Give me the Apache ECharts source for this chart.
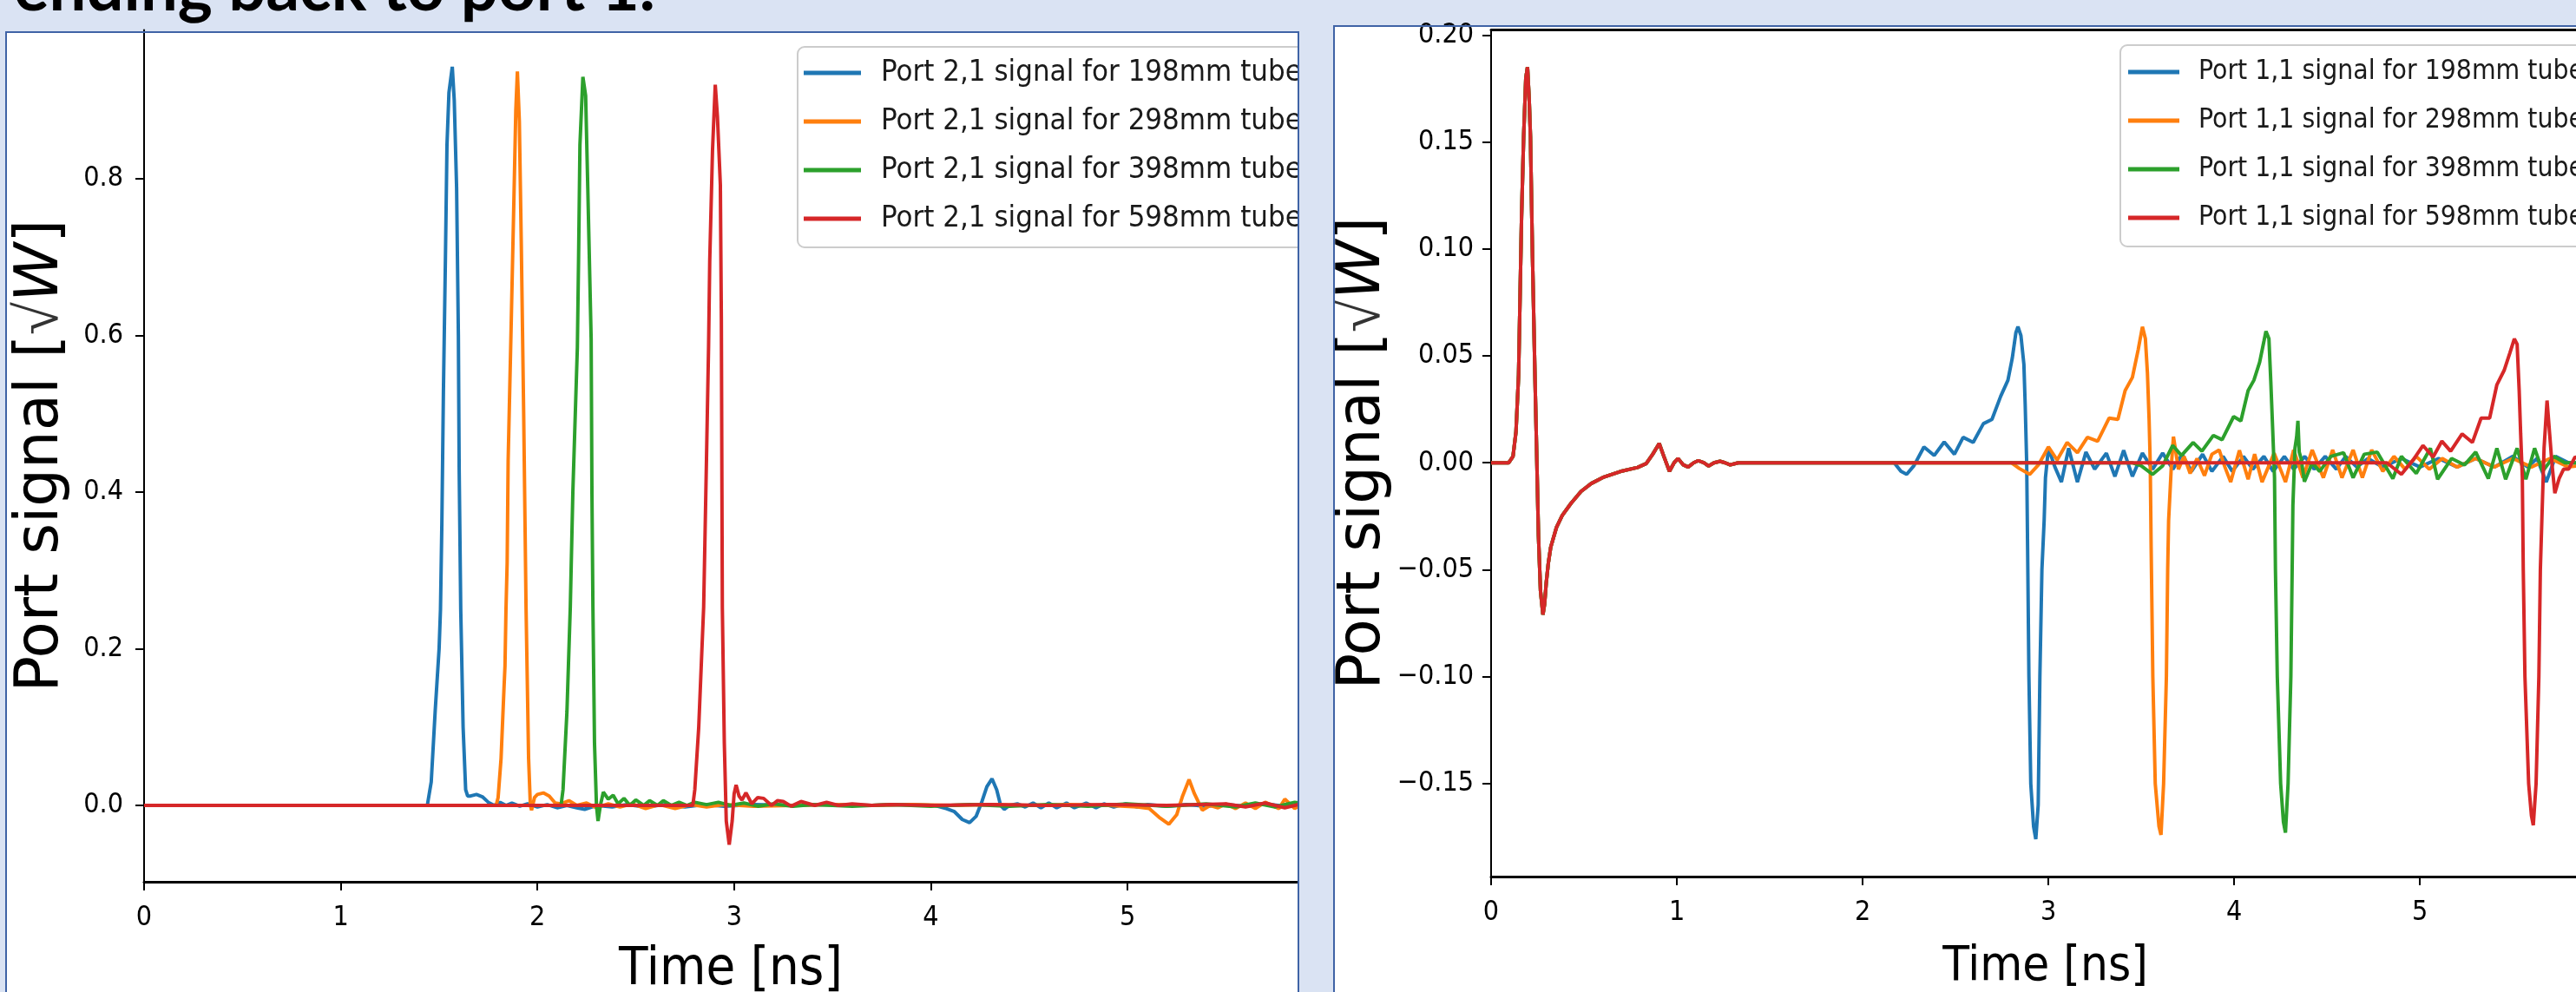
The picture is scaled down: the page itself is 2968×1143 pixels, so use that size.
<!DOCTYPE html>
<html>
<head>
<meta charset="utf-8">
<title>Port signals vs time</title>
<script src="https://cdn.jsdelivr.net/npm/echarts@6/dist/echarts.min.js"></script>
<style>
  html, body { margin: 0; padding: 0; background: #dae3f3; }
  #main { width: 2968px; height: 1143px; }
</style>
</head>
<body>
<div id="main"></div>
<script>
// values: time [ns], signal [sqrt(W)]
const tubes = ['198mm', '298mm', '398mm', '598mm'];
const colors = ['#1f77b4', '#ff7f0e', '#2ca02c', '#d62728'];
const timeTicks = [0, 1, 2, 3, 4, 5];
const s21Ticks = [0, 0.2, 0.4, 0.6, 0.8];
const s11Ticks = [-0.15, -0.10, -0.05, 0, 0.05, 0.10, 0.15, 0.20];

// Port 2,1 (left plot)
const s21_198 = [[0,0],[1.44,0],[1.46,0.03],[1.48,0.12],[1.50,0.2],[1.507,0.25],[1.514,0.36],[1.522,0.53],[1.532,0.696],[1.54,0.843],[1.55,0.91],[1.567,0.943],[1.577,0.9],[1.589,0.788],[1.598,0.6],[1.602,0.43],[1.61,0.25],[1.622,0.1],[1.635,0.02],[1.645,0.012],[1.66,0.012],[1.69,0.014],[1.72,0.011],[1.75,0.004],[1.78,0.0],[1.81,0.004],[1.84,0.0],[1.87,0.003],[1.91,-0.001],[1.95,0.002],[2.0,-0.002],[2.05,0.001],[2.1,-0.003],[2.15,0.0],[2.2,-0.003],[2.24,-0.005],[2.3,0.0],[2.38,-0.002],[2.45,0.001],[2.55,-0.002],[2.65,0.001],[2.75,-0.002],[2.85,0.001],[2.95,-0.001],[3.1,0.001],[3.3,0.0],[3.5,0.001],[3.7,0.0],[3.9,0.001],[4.02,0.0],[4.078,-0.004],[4.12,-0.008],[4.16,-0.018],[4.197,-0.022],[4.23,-0.014],[4.26,0.005],[4.285,0.024],[4.311,0.034],[4.335,0.02],[4.355,0.0],[4.373,-0.005],[4.40,0.0],[4.44,0.002],[4.48,-0.002],[4.52,0.003],[4.56,-0.003],[4.6,0.003],[4.64,-0.003],[4.69,0.003],[4.73,-0.003],[4.79,0.003],[4.84,-0.003],[4.88,0.002],[4.93,-0.002],[4.99,0.002],[5.05,-0.002],[5.1,0.001],[5.2,-0.001],[5.3,0.001],[5.4,-0.001],[5.5,0.001],[5.6,-0.001],[5.7,0.002],[5.8,-0.001],[5.97,0]];
const s21_298 = [[0,0],[1.79,0],[1.80,0.01],[1.815,0.06],[1.83,0.15],[1.835,0.178],[1.84,0.25],[1.846,0.31],[1.851,0.44],[1.867,0.62],[1.88,0.77],[1.89,0.888],[1.898,0.937],[1.908,0.873],[1.918,0.714],[1.93,0.5],[1.942,0.253],[1.955,0.06],[1.964,0.0],[1.97,-0.006],[1.985,0.01],[2.0,0.014],[2.03,0.016],[2.06,0.012],[2.09,0.003],[2.12,0.002],[2.16,0.006],[2.2,0.0],[2.25,0.003],[2.3,-0.003],[2.36,0.002],[2.42,-0.002],[2.48,0.002],[2.55,-0.004],[2.62,0.001],[2.7,-0.004],[2.78,0.001],[2.86,-0.002],[2.95,0.001],[3.1,-0.001],[3.3,0.0],[3.5,0.001],[3.7,0.0],[3.9,0.001],[4.1,0.0],[4.3,0.001],[4.5,0.0],[4.7,0.001],[4.9,0.0],[5.05,-0.002],[5.11,-0.004],[5.16,-0.015],[5.21,-0.024],[5.25,-0.012],[5.28,0.012],[5.313,0.033],[5.34,0.015],[5.38,-0.006],[5.42,0.0],[5.46,-0.003],[5.5,0.002],[5.55,-0.004],[5.6,0.003],[5.65,-0.004],[5.7,0.004],[5.77,-0.004],[5.8,0.008],[5.85,-0.004],[5.9,0.004],[5.97,0]];
const s21_398 = [[0,0],[2.12,0],[2.13,0.02],[2.15,0.12],[2.167,0.253],[2.18,0.4],[2.203,0.585],[2.209,0.696],[2.216,0.843],[2.231,0.93],[2.245,0.906],[2.256,0.788],[2.273,0.596],[2.277,0.4],[2.282,0.253],[2.29,0.08],[2.3,0.0],[2.308,-0.02],[2.32,0.0],[2.335,0.017],[2.36,0.008],[2.385,0.013],[2.41,0.002],[2.44,0.009],[2.47,0.0],[2.5,0.007],[2.54,0.0],[2.57,0.006],[2.61,0.0],[2.64,0.006],[2.68,0.0],[2.72,0.004],[2.76,0.0],[2.8,0.004],[2.86,0.001],[2.92,0.004],[2.98,0.0],[3.05,0.003],[3.12,-0.001],[3.2,0.002],[3.3,-0.001],[3.4,0.001],[3.6,-0.001],[3.8,0.001],[4.0,-0.001],[4.2,0.001],[4.4,-0.001],[4.6,0.001],[4.8,-0.001],[5.0,0.002],[5.2,-0.001],[5.4,0.002],[5.55,-0.002],[5.65,0.003],[5.75,-0.002],[5.85,0.004],[5.97,0]];
const s21_598 = [[0,0],[2.79,0],[2.80,0.02],[2.82,0.1],[2.845,0.253],[2.86,0.45],[2.87,0.585],[2.876,0.696],[2.89,0.836],[2.904,0.92],[2.915,0.88],[2.93,0.792],[2.935,0.622],[2.938,0.4],[2.94,0.253],[2.95,0.08],[2.96,-0.02],[2.975,-0.05],[2.99,-0.02],[3.0,0.015],[3.01,0.026],[3.025,0.012],[3.04,0.007],[3.06,0.016],[3.09,0.002],[3.12,0.01],[3.15,0.009],[3.19,0.0],[3.22,0.006],[3.25,0.005],[3.29,-0.001],[3.34,0.005],[3.41,0.0],[3.47,0.004],[3.53,0.0],[3.6,0.002],[3.7,0.0],[3.8,0.001],[4.0,0.0],[4.3,0.001],[4.6,0.0],[4.9,0.001],[5.2,0.0],[5.5,0.002],[5.6,-0.002],[5.7,0.003],[5.8,-0.003],[5.9,0.003],[5.97,0]];

// Port 1,1 (right plot): first reflection is common to every tube
const s11Common = [[0,0],[0.095,0],[0.118,0.003],[0.134,0.0145],[0.148,0.041],[0.156,0.078],[0.164,0.115],[0.175,0.152],[0.187,0.18],[0.196,0.185],[0.205,0.17],[0.212,0.152],[0.223,0.096],[0.236,0.041],[0.246,0.002],[0.255,-0.034],[0.266,-0.06],[0.279,-0.071],[0.288,-0.066],[0.297,-0.056],[0.308,-0.047],[0.321,-0.0395],[0.352,-0.0302],[0.383,-0.0246],[0.43,-0.019],[0.484,-0.0134],[0.539,-0.0097],[0.601,-0.0069],[0.695,-0.0041],[0.788,-0.0022],[0.835,-0.0004],[0.87,0.004],[0.905,0.009],[0.93,0.003],[0.96,-0.004],[0.985,0.0],[1.006,0.002],[1.035,-0.001],[1.061,-0.002],[1.09,0.0],[1.115,0.001],[1.145,0.0],[1.17,-0.0015],[1.2,0.0],[1.232,0.0007],[1.26,0.0],[1.287,-0.001],[1.33,0]];
const s11_198 = [[2.17,0],[2.206,-0.004],[2.237,-0.0054],[2.276,-0.0014],[2.33,0.0074],[2.385,0.0034],[2.439,0.0097],[2.494,0.004],[2.541,0.0119],[2.595,0.0095],[2.65,0.0183],[2.696,0.0203],[2.743,0.0311],[2.782,0.0386],[2.805,0.0487],[2.825,0.0609],[2.836,0.0636],[2.852,0.0595],[2.868,0.046],[2.875,0.027],[2.883,0.0],[2.888,-0.04],[2.895,-0.1],[2.905,-0.15],[2.92,-0.17],[2.932,-0.176],[2.945,-0.16],[2.954,-0.1],[2.965,-0.05],[2.977,-0.027],[2.984,-0.007],[3.0,0.0068],[3.035,-0.002],[3.07,-0.009],[3.109,0.0068],[3.156,-0.009],[3.202,0.005],[3.249,-0.003],[3.312,0.0045],[3.358,-0.0064],[3.405,0.0058],[3.452,-0.0064],[3.506,0.0045],[3.561,-0.003],[3.615,0.0045],[3.67,-0.003],[3.72,0.004],[3.77,-0.004],[3.83,0.004],[3.88,-0.004],[3.94,0.003],[3.99,-0.004],[4.05,0.003],[4.1,-0.003],[4.16,0.003],[4.21,-0.004],[4.27,0.003],[4.32,-0.003],[4.38,0.003],[4.43,-0.003],[4.49,0.003],[4.55,-0.003],[4.6,0.003],[4.66,-0.002],[4.72,0.002],[4.8,-0.002],[4.9,0.002],[5.0,-0.002],[5.1,0.002],[5.2,-0.002],[5.3,0.002],[5.4,-0.002],[5.5,0.003],[5.58,-0.002],[5.63,0.002],[5.68,-0.009],[5.73,0.003],[5.8,0.0],[5.97,0]];
const s11_298 = [[2.8,0],[2.844,-0.0027],[2.899,-0.0054],[2.946,-0.001],[3.0,0.0074],[3.047,0.0013],[3.101,0.0095],[3.156,0.0047],[3.21,0.0119],[3.265,0.0101],[3.327,0.0209],[3.374,0.0203],[3.413,0.0338],[3.452,0.0399],[3.483,0.0528],[3.506,0.0636],[3.522,0.058],[3.533,0.0419],[3.542,0.02],[3.548,0.0],[3.553,-0.04],[3.562,-0.1],[3.575,-0.15],[3.595,-0.17],[3.606,-0.174],[3.62,-0.15],[3.635,-0.1],[3.642,-0.05],[3.647,-0.027],[3.662,-0.001],[3.673,0.0122],[3.70,-0.003],[3.73,0.003],[3.763,-0.005],[3.80,0.002],[3.84,-0.006],[3.88,0.004],[3.919,0.006],[3.95,-0.002],[3.981,-0.009],[4.028,0.0058],[4.075,-0.0077],[4.11,0.004],[4.15,-0.009],[4.215,0.0045],[4.276,-0.009],[4.32,0.006],[4.37,-0.007],[4.42,0.006],[4.48,-0.007],[4.53,0.006],[4.58,-0.007],[4.64,0.006],[4.69,-0.007],[4.74,0.006],[4.8,-0.004],[4.86,0.003],[4.92,-0.003],[4.98,0.003],[5.05,-0.003],[5.12,0.002],[5.2,-0.002],[5.3,0.002],[5.4,-0.002],[5.5,0.002],[5.6,-0.002],[5.7,0.002],[5.8,-0.002],[5.97,0]];
const s11_398 = [[3.45,0],[3.499,-0.0014],[3.561,-0.0054],[3.615,-0.0014],[3.669,0.0081],[3.716,0.0034],[3.779,0.0095],[3.826,0.0054],[3.888,0.0128],[3.935,0.0108],[3.997,0.0216],[4.036,0.0196],[4.075,0.0338],[4.106,0.0386],[4.137,0.047],[4.16,0.0568],[4.171,0.0615],[4.187,0.058],[4.197,0.038],[4.207,0.016],[4.217,-0.007],[4.222,-0.05],[4.232,-0.1],[4.25,-0.15],[4.265,-0.168],[4.276,-0.173],[4.29,-0.15],[4.305,-0.1],[4.312,-0.05],[4.316,-0.02],[4.327,0.0068],[4.336,0.012],[4.343,0.0196],[4.35,0.005],[4.36,0.002],[4.378,-0.0088],[4.42,0.0],[4.46,-0.004],[4.52,0.003],[4.589,0.0047],[4.64,-0.007],[4.7,0.004],[4.77,0.005],[4.854,-0.0074],[4.9,0.003],[4.98,-0.005],[5.056,0.0068],[5.095,-0.0077],[5.17,0.002],[5.24,-0.001],[5.3,0.005],[5.368,-0.0074],[5.414,0.0068],[5.461,-0.0077],[5.523,0.0068],[5.57,-0.0077],[5.617,0.0068],[5.66,-0.004],[5.72,0.003],[5.78,0.0],[5.97,0]];
const s11_598 = [[4.822,0],[4.9,-0.0054],[4.963,0.0013],[5.016,0.0081],[5.071,0.0027],[5.118,0.0101],[5.165,0.0054],[5.227,0.0135],[5.282,0.0095],[5.329,0.0209],[5.375,0.0209],[5.414,0.0365],[5.453,0.0432],[5.484,0.0514],[5.508,0.058],[5.523,0.0554],[5.534,0.0338],[5.542,0.0135],[5.551,-0.007],[5.556,-0.05],[5.565,-0.1],[5.585,-0.15],[5.6,-0.165],[5.61,-0.1695],[5.625,-0.15],[5.64,-0.1],[5.648,-0.05],[5.656,-0.027],[5.668,0.0068],[5.684,0.0291],[5.698,0.0135],[5.71,0.0],[5.726,-0.0142],[5.749,-0.0074],[5.773,-0.003],[5.8,-0.003],[5.835,0.0027],[5.9,0.0],[5.97,0]];

const s21Data = [s21_198, s21_298, s21_398, s21_598];
const s11Data = [s11_198, s11_298, s11_398, s11_598].map(tail => s11Common.concat(tail));

const bg = '#dae3f3';
const frame = '#3f63a6';
const tickFont = "'DejaVu Sans Condensed', 'DejaVu Sans'";
const mplFont = 'DejaVu Sans';

function timeAxis(grid, max, nameGap, nameSize) {
  return {
    type: 'value', gridIndex: grid, min: 0, max: max,
    name: 'Time [ns]', nameLocation: 'middle', nameGap: nameGap,
    nameTextStyle: { fontSize: nameSize, color: '#000', fontFamily: tickFont },
    axisLine: { show: true, onZero: false, lineStyle: { color: '#000', width: 3 } },
    axisTick: { show: true, customValues: timeTicks, length: 10, lineStyle: { color: '#000', width: 2 } },
    axisLabel: { customValues: timeTicks, margin: 26, fontSize: 32, color: '#000', fontFamily: tickFont },
    splitLine: { show: false }
  };
}

function signalAxis(grid, min, max, ticks, digits, nameGap, margin) {
  return {
    type: 'value', gridIndex: grid, min: min, max: max,
    name: 'Port signal [{s|√}{w|W}]', nameLocation: 'middle', nameRotate: 90, nameGap: nameGap,
    nameTextStyle: {
      fontSize: 69, color: '#000', fontFamily: mplFont,
      rich: {
        s: { fontSize: 69, fontFamily: mplFont, fontWeight: 'lighter', color: '#333' },
        w: { fontSize: 69, fontFamily: mplFont, fontStyle: 'italic', color: '#000' }
      }
    },
    axisLine: { show: true, onZero: false, lineStyle: { color: '#000', width: 2 } },
    axisTick: { show: true, customValues: ticks, length: 10, lineStyle: { color: '#000', width: 2 } },
    axisLabel: {
      customValues: ticks, margin: margin, fontSize: 32, color: '#000', fontFamily: tickFont,
      formatter: v => (v < 0 ? '\u2212' : '') + Math.abs(v).toFixed(digits)
    },
    splitLine: { show: false }
  };
}

function lineSeries(name, data, i, axis) {
  return {
    name: name, type: 'line', data: data,
    xAxisIndex: axis, yAxisIndex: axis,
    showSymbol: false, symbol: 'none', animation: false,
    color: colors[i],
    lineStyle: { color: colors[i], width: 4 },
    z: 2 + i
  };
}

function legendBox(names, left, top, iconW, gap, pad, size) {
  return {
    orient: 'vertical', left: left, top: top, data: names,
    icon: 'rect', itemWidth: iconW, itemHeight: 5, itemGap: 16,
    selectedMode: false,
    padding: pad,
    backgroundColor: '#ffffff', borderColor: '#cccccc', borderWidth: 2, borderRadius: 8,
    textStyle: {
      fontSize: size, lineHeight: 40, color: '#1a1a1a', fontFamily: tickFont,
      padding: [0, 0, 0, gap]
    }
  };
}

const names21 = tubes.map(t => 'Port 2,1 signal for ' + t + ' tube');
const names11 = tubes.map(t => 'Port 1,1 signal for ' + t + ' tube');

const chart = echarts.init(document.getElementById('main'), null, { renderer: 'canvas' });

const option = {
  backgroundColor: bg,
  animation: false,
  grid: [
    { left: 166, top: 34.5, width: 1352, height: 981.5, outerBoundsMode: 'none', containLabel: false },
    { left: 1718, top: 34.5, width: 1277, height: 975.5, outerBoundsMode: 'none', containLabel: false }
  ],
  xAxis: [
    timeAxis(0, 5.966, 72, 61),
    timeAxis(1, 5.966, 76, 56),
    // top spine of the right plot
    { type: 'value', gridIndex: 1, position: 'top', min: 0, max: 5.966,
      axisLine: { show: true, onZero: false, lineStyle: { color: '#000', width: 3 } },
      axisTick: { show: false }, axisLabel: { show: false }, splitLine: { show: false } }
  ],
  yAxis: [
    signalAxis(0, -0.0975, 0.990, s21Ticks, 1, 83, 24),
    signalAxis(1, -0.1935, 0.2024, s11Ticks, 2, 111, 20)
  ],
  legend: [
    legendBox(names21, 919, 54, 66, 18, [10, 16, 13, 7], 34.5),
    legendBox(names11, 2443, 52, 59, 17, [11, 24, 13, 9], 31.6)
  ],
  series: s21Data.map((d, i) => lineSeries(names21[i], d, i, 0))
    .concat(s11Data.map((d, i) => lineSeries(names11[i], d, i, 1))),
  graphic: [
    // white slide panels behind the plots
    { type: 'rect', z: -10, shape: { x: 7, y: 37, width: 1489, height: 1200 }, style: { fill: '#ffffff' } },
    { type: 'rect', z: -10, shape: { x: 1537, y: 30, width: 1500, height: 1200 }, style: { fill: '#ffffff' } },
    // slide text cut at the top
    { type: 'text', z: 100, x: 16, y: -13,
      style: { text: 'ending back to port 1.', fill: '#000', font: 'bold 76px Lato', verticalAlign: 'middle' } },
    // gap between the two panels hides what spills over
    { type: 'rect', z: 100, shape: { x: 1497, y: 0, width: 39, height: 1143 }, style: { fill: bg } },
    { type: 'rect', z: 101, shape: { x: 7, y: 37, width: 1489, height: 1200 },
      style: { fill: null, stroke: frame, lineWidth: 2 } },
    { type: 'rect', z: 101, shape: { x: 1537, y: 30, width: 1500, height: 1200 },
      style: { fill: null, stroke: frame, lineWidth: 2 } }
  ]
};

chart.setOption(option);
</script>
</body>
</html>
